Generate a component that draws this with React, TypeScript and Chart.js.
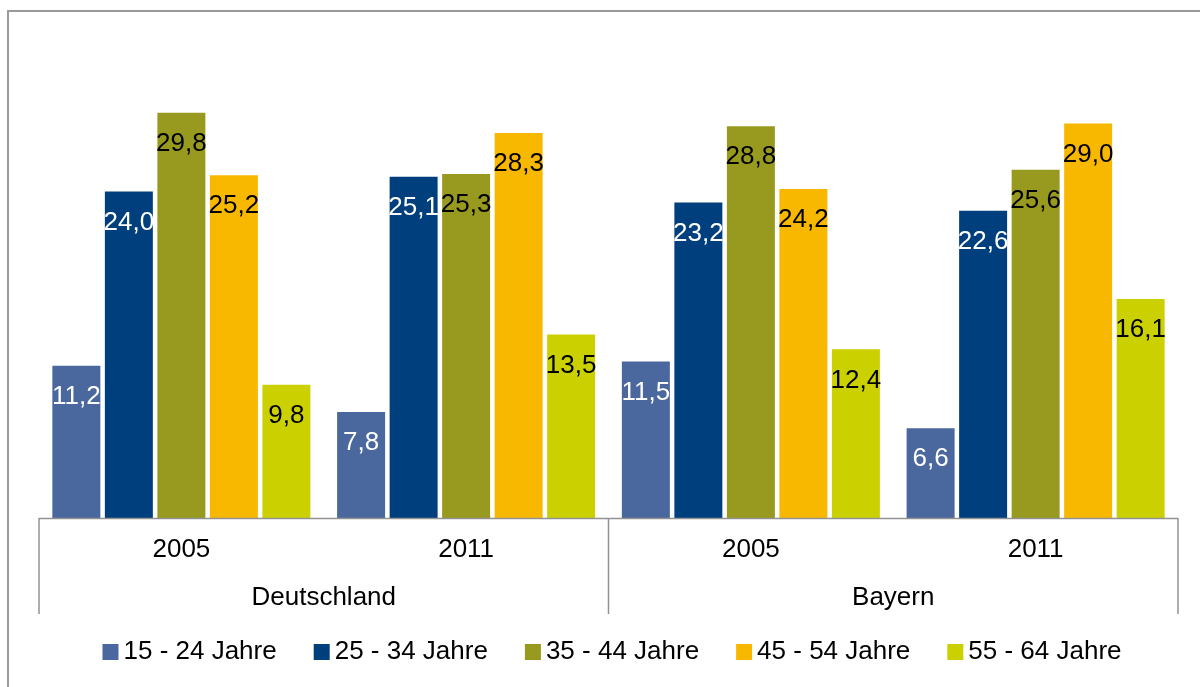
import React, { useEffect, useRef } from "react";
import { Chart, registerables } from "chart.js";

Chart.register(...registerables);

const years = ["2005", "2011", "2005", "2011"];
const regions = ["Deutschland", "Bayern"];
const seriesLabels = ["15 - 24 Jahre", "25 - 34 Jahre", "35 - 44 Jahre", "45 - 54 Jahre", "55 - 64 Jahre"];
const age15to24 = [11.2, 7.8, 11.5, 6.6];
const age25to34 = [24.0, 25.1, 23.2, 22.6];
const age35to44 = [29.8, 25.3, 28.8, 25.6];
const age45to54 = [25.2, 28.3, 24.2, 29.0];
const age55to64 = [9.8, 13.5, 12.4, 16.1];
const seriesColors = ["#4A679E", "#003F7D", "#989A1F", "#F9B800", "#CBD100"];
const labelColors = ["#FFFFFF", "#FFFFFF", "#000000", "#000000", "#000000"];

const FONT = '26px "Liberation Sans", Arial, sans-serif';

const decoPlugin = {
  id: "deco",
  beforeDraw(chart: any) {
    const ctx = chart.ctx;
    ctx.save();
    ctx.strokeStyle = "#9A9A9A";
    ctx.lineWidth = 2;
    ctx.strokeRect(8, 11, chart.width + 20, chart.height + 20);
    ctx.restore();
  },
  afterDatasetsDraw(chart: any) {
    const ctx = chart.ctx;
    const area = chart.chartArea;
    const xs = chart.scales.x;
    ctx.save();
    // data labels
    ctx.font = FONT;
    ctx.textAlign = "center";
    ctx.textBaseline = "middle";
    chart.data.datasets.forEach((ds: any, di: number) => {
      const meta = chart.getDatasetMeta(di);
      meta.data.forEach((bar: any, i: number) => {
        const v = ds.data[i] as number;
        ctx.fillStyle = labelColors[di];
        ctx.fillText(v.toFixed(1).replace(".", ","), bar.x, bar.y + 31);
      });
    });
    // axis
    const left = area.left;
    const right = area.right;
    const base = area.bottom;
    const step = (right - left) / years.length;
    const bottom = base + 96;
    ctx.strokeStyle = "#929292";
    ctx.lineWidth = 1.5;
    ctx.beginPath();
    ctx.moveTo(left, base + 0.5);
    ctx.lineTo(right, base + 0.5);
    const seps = [left, left + step * 2, right];
    seps.forEach((x) => {
      ctx.moveTo(x, base);
      ctx.lineTo(x, bottom);
    });
    ctx.stroke();
    ctx.fillStyle = "#000000";
    years.forEach((y, i) => {
      const x = xs.getPixelForValue(i);
      ctx.fillText(y, x, base + 32);
    });
    regions.forEach((r, i) => {
      const x = (xs.getPixelForValue(i * 2) + xs.getPixelForValue(i * 2 + 1)) / 2;
      ctx.fillText(r, x, base + 80);
    });
    // legend
    const sq = 16;
    const gapText = 5;
    const gapItem = 37;
    const widths = chart.data.datasets.map((ds: any) => ctx.measureText(ds.label).width);
    const total = widths.reduce((a: number, w: number) => a + sq + gapText + w, 0) + gapItem * (widths.length - 1);
    let x = 612 - total / 2;
    const ly = 652;
    ctx.textAlign = "left";
    chart.data.datasets.forEach((ds: any, di: number) => {
      ctx.fillStyle = ds.backgroundColor;
      ctx.fillRect(x, ly - 8, sq, sq);
      ctx.fillStyle = "#000000";
      ctx.fillText(ds.label, x + sq + gapText, ly);
      x += sq + gapText + widths[di] + gapItem;
    });
    ctx.restore();
  },
};

export default function App() {
  const ref = useRef<HTMLCanvasElement | null>(null);
  useEffect(() => {
    if (!ref.current) return;
    const values = [age15to24, age25to34, age35to44, age45to54, age55to64];
    const chart = new Chart(ref.current, {
      type: "bar",
      data: {
        labels: years,
        datasets: values.map((d, i) => ({
          label: seriesLabels[i],
          data: d,
          backgroundColor: seriesColors[i],
          borderWidth: 0,
          barPercentage: 0.914,
          categoryPercentage: 0.922,
        })),
      },
      options: {
        responsive: false,
        animation: false,
        layout: { padding: { left: 39, right: 22, top: 110, bottom: 169 } },
        plugins: { legend: { display: false }, tooltip: { enabled: false } },
        scales: {
          x: { display: false },
          y: { display: false, min: 0, max: 30 },
        },
      },
      plugins: [decoPlugin],
    });
    return () => chart.destroy();
  }, []);
  return (
    <div style={{ position: "fixed", left: 0, top: 0, width: 1200, height: 687, background: "#fff" }}>
      <canvas ref={ref} width={1200} height={687} style={{ display: "block" }} />
    </div>
  );
}
